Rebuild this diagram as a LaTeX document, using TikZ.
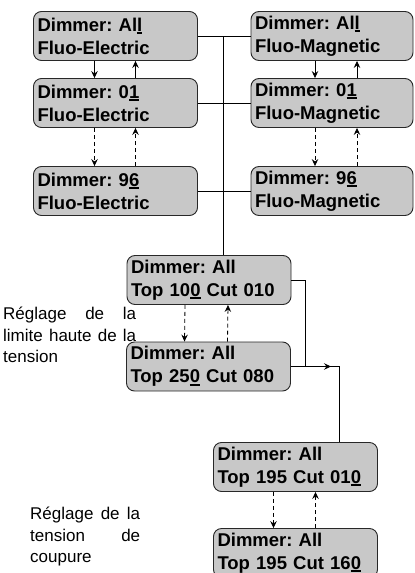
\documentclass[tikz,border=0pt]{standalone}
\usepackage{fontspec}
\setmainfont{Liberation Sans}
\usepackage{tikz}
\usetikzlibrary{arrows.meta, positioning, calc}
\definecolor{boxgray}{RGB}{200,200,200}
\definecolor{edgegray}{RGB}{40,40,40}
\frenchspacing
\newcommand{\curpos}[1]{\setbox0\hbox{#1}\rlap{\rule[-3pt]{\wd0}{1.8pt}}#1}
\newcommand{\spread}[2]{\makebox[#1][s]{#2}}
\tikzset{
  menu/.style={rectangle, rounded corners=8pt, draw=edgegray, line width=0.9pt,
               fill=boxgray, minimum height=49pt, minimum width=164pt,
               text width=156pt, inner xsep=4pt, align=left,
               font=\fontsize{18.5}{23}\selectfont\bfseries},
  note/.style={inner sep=0pt, align=left,
               font=\fontsize{17}{21.5}\selectfont},
  link/.style={line width=0.8pt, draw=black},
  flow/.style={-{Stealth[length=7pt, width=6.5pt, inset=2.5pt]}, line width=0.8pt},
  dflow/.style={flow, dash pattern=on 4pt off 3pt},
}

\begin{document}
\begin{tikzpicture}[x=1pt, y=-1pt]
  \clip (0,0) rectangle (415,573);

  % Fluo menus, two columns
  \node[menu] (elec1) at (115.5,36) {Dimmer: Al\curpos{l}\\Fluo-Electric};
  \node[menu] (elec2) at (115.5,103) {Dimmer: 0\curpos{1}\\Fluo-Electric};
  \node[menu] (elec3) at (115.5,191) {Dimmer: 9\curpos{6}\\Fluo-Electric};
  \node[menu, minimum width=162pt, text width=154pt] (magn1) at (332,36)
    {Dimmer: Al\curpos{l}\\Fluo-Magnetic};
  \node[menu, minimum width=162pt, text width=154pt] (magn2) at (332,103)
    {Dimmer: 0\curpos{1}\\Fluo-Magnetic};
  \node[menu, minimum width=162pt, text width=154pt] (magn3) at (332,191)
    {Dimmer: 9\curpos{6}\\Fluo-Magnetic};

  % Top / Cut menus
  \node[menu] (top1) at (209,280) {Dimmer: All\\Top 10\curpos{0} Cut 010};
  \node[menu] (top2) at (208.5,366.5) {Dimmer: All\\Top 25\curpos{0} Cut 080};
  \node[menu] (cut1) at (295.5,467) {Dimmer: All\\Top 195 Cut 01\curpos{0}};
  \node[menu] (cut2) at (295.5,553) {Dimmer: All\\Top 195 Cut 16\curpos{0}};

  % Side notes
  \node[note, anchor=north west] (noteTop) at (3,307)
    {\spread{133pt}{Réglage de la}\\\spread{133pt}{limite haute de la}\\tension};
  \node[note, anchor=north west] (noteCut) at (30,507)
    {\spread{110pt}{Réglage de la}\\\spread{110pt}{tension de}\\coupure};

  % Bus between the columns
  \coordinate (bus) at (223,36);
  \draw[link] (elec1) -- (magn1);
  \draw[link] (elec2) -- (magn2);
  \draw[link] (elec3) -- (magn3);
  \draw[link] (bus) -- (bus |- top1.north);

  % Up / down steps
  \draw[flow] ([xshift=-21pt]elec1.south) -- ([xshift=-21pt]elec2.north);
  \draw[flow] ([xshift=20pt]elec2.north) -- ([xshift=20pt]elec1.south);
  \draw[dflow] ([xshift=-21pt]elec2.south) -- ([xshift=-21pt]elec3.north);
  \draw[dflow] ([xshift=20pt]elec3.north) -- ([xshift=20pt]elec2.south);
  \draw[flow] ([xshift=-17pt]magn1.south) -- ([xshift=-17pt]magn2.north);
  \draw[flow] ([xshift=25pt]magn2.north) -- ([xshift=25pt]magn1.south);
  \draw[dflow] ([xshift=-17pt]magn2.south) -- ([xshift=-17pt]magn3.north);
  \draw[dflow] ([xshift=25pt]magn3.north) -- ([xshift=25pt]magn2.south);
  \draw[dflow] ([xshift=-24pt]top1.south) -- ([xshift=-24pt]top2.north);
  \draw[dflow] ([xshift=19pt]top2.north) -- ([xshift=19pt]top1.south);
  \draw[dflow] ([xshift=-22pt]cut1.south) -- ([xshift=-22pt]cut2.north);
  \draw[dflow] ([xshift=20pt]cut2.north) -- ([xshift=20pt]cut1.south);

  % From Top menus to Cut menus
  \coordinate (rjoin) at (305,366.5);
  \coordinate (rtip) at (331,366.5);
  \coordinate (rturn) at (339,366.5);
  \draw[link] (top1.east) -| (rjoin);
  \draw[link] (top2.east) -- (rturn) -- (rturn |- cut1.north);
  \draw[flow] (top2.east) -- (rtip);
\end{tikzpicture}
\end{document}
